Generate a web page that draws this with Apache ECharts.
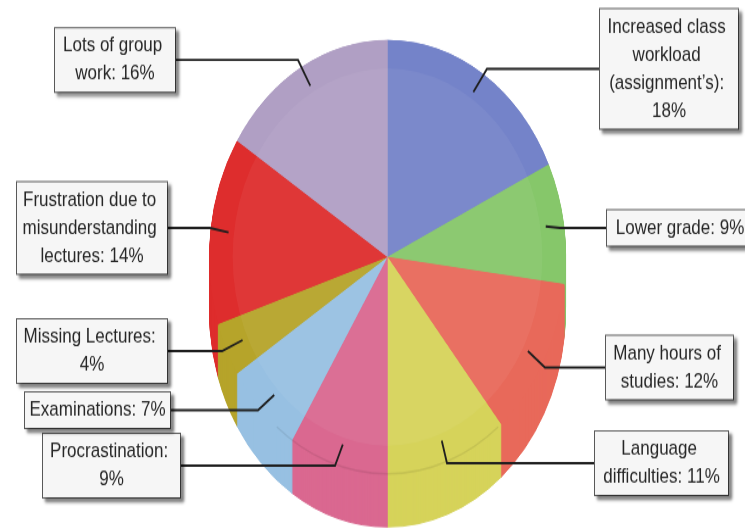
<!DOCTYPE html>
<html>
<head>
<meta charset="utf-8">
<script src="https://cdn.jsdelivr.net/npm/echarts@6/dist/echarts.min.js"></script>
<style>
  html, body { margin: 0; padding: 0; background: #ffffff; overflow: hidden; }
  #wrap { width: 745px; height: 529px; overflow: hidden; }
  /* the drawing is made in a shorter canvas and stretched vertically */
  #chart { width: 745px; height: 434px; transform: scaleY(1.2189); transform-origin: 0 0; }
</style>
</head>
<body>
<div id="wrap"><div id="chart"></div></div>
<script>
// Causes of stress, share of responses (%), clockwise from 12 o'clock
const categories = [
  'Increased class workload (assignment\u2019s)',
  'Lower grade',
  'Many hours of studies',
  'Language difficulties',
  'Procrastination',
  'Examinations',
  'Missing Lectures',
  'Frustration due to misunderstanding lectures',
  'Lots of group work'
];
const percentages = [18, 9, 12, 11, 9, 7, 4, 14, 16];
const sliceColors = [
  '#7483c9', '#86c76a', '#e8695a', '#d6d35a', '#da6890',
  '#97c0e2', '#b6a42a', '#de2d2d', '#b09fc4'
];

// Callout boxes: centre x, middle y, total box width, side paddings, x of the leader elbow
const labelBoxes = [
  { x: 669,   y: 56.5,  w: 138, padL: 0, padR: 0,  elbowX: 487 },
  { x: 686,   y: 187,   w: 158, padL: 8, padR: 20, elbowX: 560 },
  { x: 669.5, y: 301.5, w: 127, padL: 0, padR: 0,  elbowX: 545 },
  { x: 661.5, y: 380,   w: 133, padL: 0, padR: 0,  elbowX: 447 },
  { x: 111.5, y: 382,   w: 137, padL: 0, padR: 0,  elbowX: 335 },
  { x: 97.5,  y: 336.5, w: 145, padL: 0, padR: 0,  elbowX: 258 },
  { x: 92,    y: 288,   w: 150, padL: 0, padR: 0,  elbowX: 222 },
  { x: 92,    y: 187,   w: 150, padL: 0, padR: 0,  elbowX: 210 },
  { x: 115,   y: 49.2,  w: 120, padL: 0, padR: 0,  elbowX: 298 }
];

const CX = 387.5, CY = 210.8, R = 178, DEPTH = 43.5;

const total = percentages.reduce((a, b) => a + b, 0);
// mid angle of each slice (radians, clockwise from top)
const midAngles = [];
let acc = 0;
percentages.forEach(v => {
  midAngles.push((acc + v / 2) / total * Math.PI * 2);
  acc += v;
});

function sliceData(mode) {
  return categories.map((name, i) => {
    const item = { name: name, value: percentages[i] };
    if (mode === 'wall') {
      item.itemStyle = { color: sliceColors[i], borderColor: sliceColors[i], borderWidth: 1 };
    } else if (mode === 'top') {
      item.itemStyle = { color: sliceColors[i] };
    } else {
      const b = labelBoxes[i];
      item.itemStyle = { color: 'rgba(0,0,0,0)' };
      item.label = { width: b.w - b.padL - b.padR, padding: [3, b.padR, 3, b.padL] };
    }
    return item;
  });
}

const plain = {
  type: 'pie',
  radius: R,
  startAngle: 90,
  clockwise: true,
  silent: true,
  animation: false,
  label: { show: false },
  labelLine: { show: false },
  emphasis: { disabled: true }
};

const series = [];

// side wall of the disc: copies of the pie stacked downwards
for (let d = DEPTH; d > 0; d -= 1) {
  series.push(Object.assign({}, plain, { center: [CX, CY + d], data: sliceData('wall') }));
}

// top face
series.push(Object.assign({}, plain, { center: [CX, CY], data: sliceData('top') }));

// soft inner bevel on the top face
series.push(Object.assign({}, plain, {
  center: [CX, CY],
  radius: R * 0.87,
  itemStyle: { color: 'rgba(255,255,255,0.05)' },
  data: [{ value: 1, name: '' }]
}));

// callouts with leader lines, kept above the slices
series.push({
  type: 'pie',
  z: 10,
  center: [CX, CY],
  radius: R,
  startAngle: 90,
  clockwise: true,
  silent: true,
  avoidLabelOverlap: false,
  animation: false,
  emphasis: { disabled: true },
  data: sliceData('label'),
  label: {
    show: true,
    position: 'outside',
    formatter: '{b}: {c}%',
    overflow: 'break',
    fontFamily: '"Liberation Sans", Arial, sans-serif',
    fontSize: 17,
    lineHeight: 23,
    color: '#262626',
    align: 'center',
    backgroundColor: '#f6f6f6',
    borderColor: '#5a5a5a',
    borderWidth: 1,
    shadowColor: 'rgba(0,0,0,0.45)',
    shadowBlur: 3,
    shadowOffsetX: 3,
    shadowOffsetY: 3
  },
  labelLine: {
    show: true,
    showAbove: true,
    lineStyle: { color: '#1e1e1e', width: 1.8 }
  },
  labelLayout: function (p) {
    const i = p.dataIndex;
    const b = labelBoxes[i];
    const a = midAngles[i];
    const ax = CX + R * 0.9 * Math.sin(a);
    const ay = CY - R * 0.9 * Math.cos(a);
    const edgeX = b.x > CX ? b.x - b.w / 2 : b.x + b.w / 2;
    return {
      x: b.x,
      y: b.y,
      align: 'center',
      verticalAlign: 'middle',
      labelLinePoints: [[ax, ay], [b.elbowX, b.y], [edgeX, b.y]]
    };
  }
});

const chart = echarts.init(document.getElementById('chart'));
chart.setOption({
  backgroundColor: '#ffffff',
  animation: false,
  series: series,
  graphic: [{
    type: 'arc',
    z: 5,
    silent: true,
    shape: { cx: CX, cy: CY, r: R, startAngle: 0.9, endAngle: Math.PI - 0.9 },
    style: { stroke: 'rgba(0,0,0,0.08)', lineWidth: 1.5, fill: null }
  }]
});
</script>
</body>
</html>
